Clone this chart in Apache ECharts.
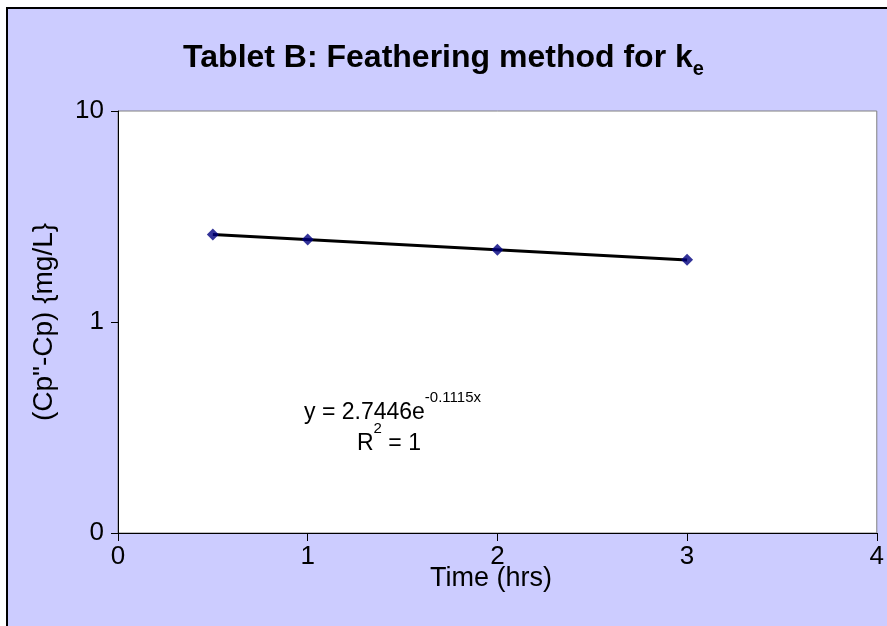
<!DOCTYPE html>
<html><head><meta charset="utf-8">
<script src="https://cdn.jsdelivr.net/npm/echarts@6/dist/echarts.min.js"></script>
<style>html,body{margin:0;padding:0;background:#fff}#c{width:887px;height:626px}</style>
</head><body><div id="c"></div>
<script>
var timeHrs = [0.5, 1, 2, 3];
var cpDiff = [2.60, 2.46, 2.20, 1.97];
var trendX = [0.5, 3];
var trendY = [2.597, 1.966];
var xTicks = [0, 1, 2, 3, 4];
var yTickLabels = {0.1: '0', 1: '1', 10: '10'};

var font = '"Liberation Sans", Arial, sans-serif';
var chart = echarts.init(document.getElementById('c'));
chart.setOption({
  backgroundColor: 'transparent',
  animation: false,
  title: {
    text: '{m|Tablet B: Feathering method for k}{s|e}',
    left: 'center', top: 32,
    textStyle: {
      rich: {
        m: {fontFamily: font, fontSize: 32, fontWeight: 'bold', color: '#000', lineHeight: 42, verticalAlign: 'middle'},
        s: {fontFamily: font, fontSize: 20, fontWeight: 'bold', color: '#000', lineHeight: 42, verticalAlign: 'bottom'}
      }
    }
  },
  graphic: [
    {type: 'rect', z: -100, silent: true, shape: {x: 7, y: 8, width: 900, height: 640},
     style: {fill: '#CCCCFF', stroke: '#000', lineWidth: 2}},
    {type: 'text', left: 430, top: 565, z: 10,
     style: {text: 'Time (hrs)', font: '27px ' + font, fill: '#000'}},
    {type: 'text', left: 304, top: 390, z: 10,
     style: {text: '{a|y = 2.7446e}{b|-0.1115x}', rich: {
       a: {font: '23px ' + font, fill: '#000', lineHeight: 34, verticalAlign: 'bottom'},
       b: {font: '15px ' + font, fill: '#000', lineHeight: 34, verticalAlign: 'top'}
     }}},
    {type: 'text', left: 357, top: 421, z: 10,
     style: {text: '{a|R}{b|2}{a| = 1}', rich: {
       a: {font: '23px ' + font, fill: '#000', lineHeight: 34, verticalAlign: 'bottom'},
       b: {font: '15px ' + font, fill: '#000', lineHeight: 34, verticalAlign: 'top'}
     }}}
  ],
  grid: {left: 118, top: 111, right: 4, bottom: 93, show: true, backgroundColor: '#fff', borderColor: '#808080', borderWidth: 1, containLabel: false},
  xAxis: {
    type: 'value', min: 0, max: 4, interval: 1,
    axisLine: {show: true, onZero: false, lineStyle: {color: '#000', width: 1}},
    axisTick: {show: true, length: 8, lineStyle: {color: '#000'}},
    axisLabel: {fontFamily: font, fontSize: 26, color: '#000', margin: 11,
      formatter: function (v) { return xTicks.indexOf(v) >= 0 ? String(v) : ''; }},
    splitLine: {show: false}
  },
  yAxis: {
    type: 'log', logBase: 10, min: 0.1, max: 10,
    name: '(Cp"-Cp) {mg/L}', nameLocation: 'middle', nameGap: 60,
    nameTextStyle: {fontFamily: font, fontSize: 28, color: '#000'},
    axisLine: {show: true, lineStyle: {color: '#000', width: 1}},
    axisTick: {show: true, length: 7, lineStyle: {color: '#000'}},
    axisLabel: {fontFamily: font, fontSize: 26, color: '#000', margin: 14,
      formatter: function (v) { var k = Math.round(v * 1000) / 1000; return yTickLabels[k] !== undefined ? yTickLabels[k] : ''; }},
    splitLine: {show: false}, minorTick: {show: false}
  },
  series: [
    {type: 'line', data: trendX.map(function (x, i) { return [x, trendY[i]]; }),
     showSymbol: false, lineStyle: {color: '#000', width: 3}, z: 2},
    {type: 'scatter', data: timeHrs.map(function (x, i) { return [x, cpDiff[i]]; }),
     symbol: 'diamond', symbolSize: 12, itemStyle: {color: '#000080'}, z: 3}
  ]
});
</script></body></html>
